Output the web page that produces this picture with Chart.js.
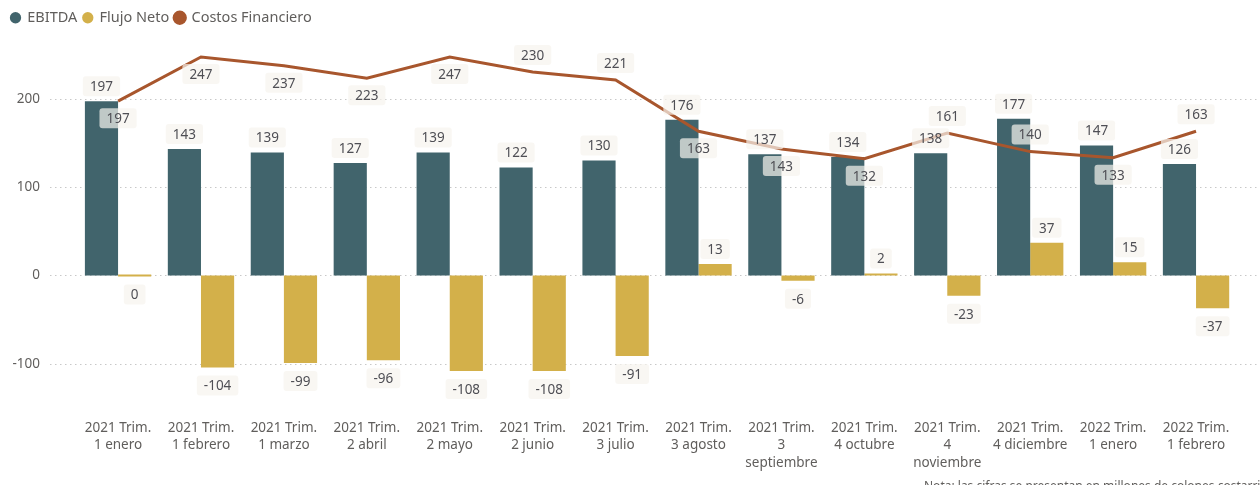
<!DOCTYPE html>
<html>
<head>
<meta charset="utf-8">
<script src="https://cdn.jsdelivr.net/npm/chart.js@4.4.1/dist/chart.umd.min.js"></script>
<style>
html, body { margin: 0; padding: 0; background: #fff; }
#wrap { width: 1260px; height: 485px; position: relative; }
</style>
</head>
<body>
<div id="wrap"><canvas id="mixChart"></canvas></div>
<script>
// periods (already split into the lines shown under each group)
var categories = [
  ["2021 Trim.", "1 enero"],
  ["2021 Trim.", "1 febrero"],
  ["2021 Trim.", "1 marzo"],
  ["2021 Trim.", "2 abril"],
  ["2021 Trim.", "2 mayo"],
  ["2021 Trim.", "2 junio"],
  ["2021 Trim.", "3 julio"],
  ["2021 Trim.", "3 agosto"],
  ["2021 Trim.", "3", "septiembre"],
  ["2021 Trim.", "4 octubre"],
  ["2021 Trim.", "4", "noviembre"],
  ["2021 Trim.", "4 diciembre"],
  ["2022 Trim.", "1 enero"],
  ["2022 Trim.", "1 febrero"]
];
var ebitda = [197, 143, 139, 127, 139, 122, 130, 176, 137, 134, 138, 177, 147, 126];
var flujoNeto = [0, -104, -99, -96, -108, -108, -91, 13, -6, 2, -23, 37, 15, -37];
var costosFinanciero = [197, 247, 237, 223, 247, 230, 221, 163, 143, 132, 161, 140, 133, 163];
var yTicks = [-100, 0, 100, 200];

// where each cost label goes relative to the line
var costLabelSide = ['below', 'below', 'below', 'below', 'below', 'above', 'above',
                     'below', 'below', 'below', 'above', 'above', 'below', 'above'];

var noteText = 'Nota: las cifras se presentan en millones de colones costarricenses';

Chart.defaults.font.family = '"Noto Sans", sans-serif';
Chart.defaults.font.size = 13;
Chart.defaults.color = '#605e5c';

function roundBox(ctx, x, y, w, h, r) {
  ctx.beginPath();
  ctx.moveTo(x + r, y);
  ctx.lineTo(x + w - r, y);
  ctx.quadraticCurveTo(x + w, y, x + w, y + r);
  ctx.lineTo(x + w, y + h - r);
  ctx.quadraticCurveTo(x + w, y + h, x + w - r, y + h);
  ctx.lineTo(x + r, y + h);
  ctx.quadraticCurveTo(x, y + h, x, y + h - r);
  ctx.lineTo(x, y + r);
  ctx.quadraticCurveTo(x, y, x + r, y);
  ctx.closePath();
}

// dotted horizontal guides + the y labels (both sit left of the plot area)
var dottedGrid = {
  id: 'dottedGrid',
  beforeDatasetsDraw: function(chart) {
    var ctx = chart.ctx;
    var yScale = chart.scales.y;
    ctx.save();
    ctx.strokeStyle = '#c8c8c8';
    ctx.lineWidth = 1;
    ctx.setLineDash([1.5, 3.5]);
    ctx.font = '13.5px "Noto Sans", sans-serif';
    ctx.fillStyle = '#605e5c';
    ctx.textAlign = 'right';
    ctx.textBaseline = 'middle';
    yTicks.forEach(function(t) {
      var py = Math.round(yScale.getPixelForValue(t)) + 0.5;
      ctx.beginPath();
      ctx.moveTo(50, py);
      ctx.lineTo(chart.width, py);
      ctx.stroke();
      ctx.fillText(String(t), 40, py);
    });
    ctx.restore();
  }
};

// value labels with the light boxes behind them
var valueLabels = {
  id: 'valueLabels',
  afterDatasetsDraw: function(chart) {
    var ctx = chart.ctx;
    ctx.save();
    ctx.font = '13.5px "Noto Sans", sans-serif';
    ctx.textAlign = 'center';
    ctx.textBaseline = 'middle';
    chart.data.datasets.forEach(function(ds, i) {
      var meta = chart.getDatasetMeta(i);
      meta.data.forEach(function(el, j) {
        var v = ds.data[j];
        var y;
        if (ds.type === 'line') {
          y = costLabelSide[j] === 'above' ? el.y - 17 : el.y + 17;
        } else if (v <= 0) {
          y = Math.max(el.y, el.base) + 18;
        } else {
          y = el.y - 15;
        }
        var txt = String(v);
        var w = ctx.measureText(txt).width + 14;
        ctx.fillStyle = 'rgba(246, 244, 238, 0.7)';
        roundBox(ctx, el.x - w / 2, y - 10, w, 20, 3);
        ctx.fill();
        ctx.fillStyle = '#4f4f55';
        ctx.fillText(txt, el.x, y + 1);
      });
    });
    ctx.restore();
  },
  afterDraw: function(chart) {
    var ctx = chart.ctx;
    ctx.save();
    ctx.font = '12px "Noto Sans", sans-serif';
    ctx.fillStyle = '#605e5c';
    ctx.textAlign = 'left';
    ctx.textBaseline = 'alphabetic';
    ctx.fillText(noteText, 924, 490);
    ctx.restore();
  }
};

var ctx = document.getElementById('mixChart').getContext('2d');
var myChart = new Chart(ctx, {
  type: 'bar',
  data: {
    labels: categories,
    datasets: [{
      label: 'EBITDA',
      data: ebitda,
      backgroundColor: '#41646c',
      categoryPercentage: 0.8,
      barPercentage: 1.0,
      order: 1
    },
    {
      label: 'Flujo Neto',
      data: flujoNeto,
      backgroundColor: '#d3b04a',
      categoryPercentage: 0.8,
      barPercentage: 1.0,
      minBarLength: 2,
      order: 1
    },
    {
      type: 'line',
      label: 'Costos Financiero',
      data: costosFinanciero,
      borderColor: '#a8562d',
      backgroundColor: '#a8562d',
      borderWidth: 3,
      pointRadius: 0,
      tension: 0,
      order: 0
    }]
  },
  options: {
    responsive: true,
    maintainAspectRatio: false,
    animation: false,
    layout: {
      padding: { top: 4.5, left: 5, right: 22.5, bottom: 13 }
    },
    plugins: {
      legend: {
        position: 'top',
        align: 'start',
        labels: {
          usePointStyle: true,
          pointStyle: 'circle',
          boxWidth: 9,
          boxHeight: 8,
          padding: 6,
          color: '#605e5c',
          font: { size: 14.5 },
          sort: function(a, b) { return a.datasetIndex - b.datasetIndex; }
        }
      },
      tooltip: { enabled: false }
    },
    scales: {
      x: {
        grid: { display: false, drawTicks: false },
        border: { display: false },
        afterFit: function(scale) {
          scale.height = 73.6;
        },
        ticks: {
          padding: 20.8,
          maxRotation: 0,
          autoSkip: false,
          color: '#605e5c',
          font: { size: 13.5, lineHeight: 1.3 }
        }
      },
      y: {
        min: -139,
        max: 271.8,
        grid: { display: false, drawTicks: false },
        border: { display: false },
        afterBuildTicks: function(scale) {
          scale.ticks = yTicks.map(function(v) { return { value: v }; });
        },
        afterFit: function(scale) {
          scale.width = 71.6;
        },
        ticks: { display: false }
      }
    }
  },
  plugins: [dottedGrid, valueLabels]
});
</script>
</body>
</html>
